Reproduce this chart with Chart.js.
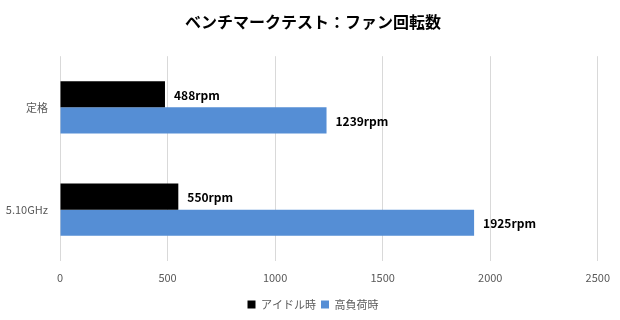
<!DOCTYPE html>
<html>
<head>
<meta charset="utf-8">
<script src="https://cdn.jsdelivr.net/npm/chart.js@4"></script>
<style>
  body { margin: 0; background: #fff; }
  #wrap { width: 620px; height: 320px; }
</style>
</head>
<body>
<div id="wrap"><canvas id="fanChart" width="620" height="320"></canvas></div>
<script>
const categories = ["定格", "5.10GHz"];
const idleRpm = [488, 550];
const loadRpm = [1239, 1925];
const seriesNames = ["アイドル時", "高負荷時"];
const xTicks = [0, 500, 1000, 1500, 2000, 2500];

const FONT = "'Noto Sans CJK JP', 'Noto Sans', sans-serif";

// value labels at the end of each bar
const barLabels = {
  id: "barLabels",
  afterDatasetsDraw(chart) {
    const ctx = chart.ctx;
    ctx.save();
    ctx.font = "bold 12px " + FONT;
    ctx.fillStyle = "#000";
    ctx.textBaseline = "middle";
    chart.data.datasets.forEach((ds, i) => {
      chart.getDatasetMeta(i).data.forEach((bar, j) => {
        ctx.fillText(ds.data[j] + "rpm", bar.x + 9, bar.y + 1);
      });
    });
    ctx.restore();
  }
};

const ctx = document.getElementById("fanChart").getContext("2d");
new Chart(ctx, {
  type: "bar",
  data: {
    labels: categories,
    datasets: [
      { label: seriesNames[0], data: idleRpm, backgroundColor: "#000000" },
      { label: seriesNames[1], data: loadRpm, backgroundColor: "#558ed5" }
    ]
  },
  options: {
    indexAxis: "y",
    responsive: false,
    animation: false,
    categoryPercentage: 0.51,
    barPercentage: 1,
    layout: { padding: { left: 26, right: 20, bottom: 0 } },
    scales: {
      x: {
        min: 0, max: 2500,
        afterBuildTicks: (axis) => { axis.ticks = xTicks.map(v => ({ value: v })); },
        grid: { color: "#d9d9d9", drawTicks: false },
        border: { display: false },
        ticks: {
          color: "#595959", font: { family: FONT, size: 11 }, padding: 10,
          callback: (v) => String(v)
        }
      },
      y: {
        afterFit: (axis) => {
          axis.width = 34;
          axis._computeLabelArea = () => undefined; // let long labels run into the left padding
        },
        grid: { display: false },
        border: { display: false },
        ticks: { color: "#595959", font: { family: FONT, size: 11 }, padding: 4 }
      }
    },
    plugins: {
      title: {
        display: true,
        text: "ベンチマークテスト：ファン回転数",
        color: "#000",
        font: { family: FONT, size: 16, weight: "bold" },
        padding: { top: 12, bottom: 25 }
      },
      legend: {
        position: "bottom",
        labels: {
          color: "#595959",
          font: { family: FONT, size: 11 },
          boxWidth: 8, boxHeight: 8,
          padding: 5
        }
      },
      tooltip: { enabled: false }
    }
  },
  plugins: [barLabels]
});
</script>
</body>
</html>
